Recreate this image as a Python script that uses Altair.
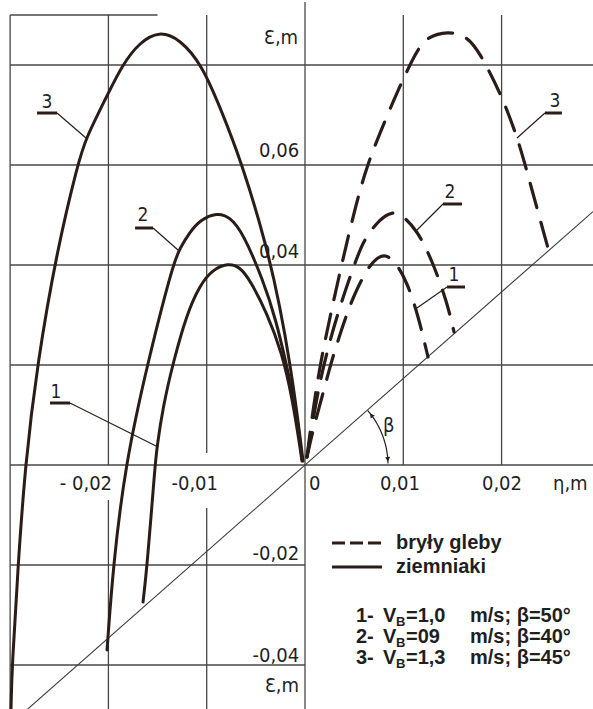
import altair as alt
import numpy as np
import pandas as pd

# ---------------------------------------------------------------- frame
W, H = 593, 709
ETA_DOMAIN = [-0.03103, 0.02930]   # η, m  (horizontal)
EPS_DOMAIN = [-0.0488, 0.0930]     # ε, m  (vertical)

INK = "#2a1d18"
GRID = "#474747"
TEXT = "#1f1f1f"
HAND = "DejaVu Sans Condensed, DejaVu Sans, sans-serif"
PRINT = "Liberation Sans, Arial, sans-serif"

# ---------------------------------------------------------------- trajectories
# potatoes (ziemniaki) – solid lines, η and ε in metres
pot1_eta = [-0.01648, -0.01607, -0.01526, -0.01506, -0.01445, -0.01343, -0.01200,
            -0.01068, -0.00946, -0.00783, -0.00661, -0.00560, -0.00387, -0.00234,
            -0.00132, -0.00051, -0.00031]
pot1_eps = [-0.0274, -0.0204, -0.0002, 0.0036, 0.0116, 0.0204, 0.0304,
            0.0360, 0.0390, 0.0404, 0.0396, 0.0370, 0.0304, 0.0224,
            0.0136, 0.0036, 0.0008]

pot2_eta = [-0.02014, -0.01953, -0.01831, -0.01607, -0.01343, -0.01272, -0.01170,
            -0.01068, -0.00895, -0.00763, -0.00631, -0.00427, -0.00295, -0.00193,
            -0.00081, -0.00031]
pot2_eps = [-0.0370, -0.0204, -0.0002, 0.0200, 0.0402, 0.0434, 0.0466,
            0.0490, 0.0505, 0.0496, 0.0464, 0.0370, 0.0290, 0.0204,
            0.0104, 0.0012]

pot3_eta = [-0.02991, -0.02981, -0.02920, -0.02848, -0.02726, -0.02523, -0.02309,
            -0.02228, -0.02040, -0.01862, -0.01679, -0.01485, -0.01272,
            -0.01048, -0.00865, -0.00641, -0.00387, -0.00254, -0.00153, -0.00071,
            -0.00020]
pot3_eps = [-0.0488, -0.0404, -0.0204, -0.0002, 0.0200, 0.0430, 0.0604,
            0.0654, 0.0728, 0.0800, 0.0846, 0.0868, 0.0852,
            0.0800, 0.0716, 0.0604, 0.0436, 0.0316, 0.0204, 0.0090,
            0.0008]

# soil clods (bryły gleby) – dashed lines
soil1_eta = [0.00020, 0.00081, 0.00173, 0.00254, 0.00305, 0.00427, 0.00509,
             0.00641, 0.00743, 0.00814, 0.00916, 0.01038, 0.01150, 0.01251]
soil1_eps = [0.0016, 0.0070, 0.0136, 0.0196, 0.0230, 0.0304, 0.0344,
             0.0396, 0.0416, 0.0421, 0.0408, 0.0366, 0.0300, 0.0216]

soil2_eta = [0.00020, 0.00071, 0.00122, 0.00173, 0.00254, 0.00376, 0.00529,
             0.00610, 0.00763, 0.00885, 0.00987, 0.01139, 0.01292, 0.01445, 0.01516]
soil2_eps = [0.0016, 0.0076, 0.0136, 0.0184, 0.0250, 0.0330, 0.0416,
             0.0454, 0.0492, 0.0507, 0.0500, 0.0470, 0.0410, 0.0326, 0.0266]

soil3_eta = [0.00020, 0.00081, 0.00153, 0.00254, 0.00376, 0.00529, 0.00641,
             0.00763, 0.00936, 0.01139, 0.01241, 0.01455, 0.01648, 0.01780,
             0.01984, 0.02167, 0.02309, 0.02472]
soil3_eps = [0.0016, 0.0110, 0.0200, 0.0296, 0.0404, 0.0530, 0.0604,
             0.0664, 0.0746, 0.0830, 0.0856, 0.0868, 0.0858, 0.0824,
             0.0746, 0.0654, 0.0550, 0.0434]

# slope of the separating surface (ε = k·η)
SLOPE_K = 1.73

# ---------------------------------------------------------------- grid
grid_v_eta = [-0.03, -0.02, -0.02, -0.01, -0.01, 0.0, 0.01, 0.02]
grid_v_from = [-0.0488, 0.0, -0.0488, 0.0024, -0.0488, -0.0488, 0.0, 0.0]
grid_v_to = [0.09, 0.09, -0.0070, 0.09, -0.0086, 0.0926, 0.09, 0.09]

grid_h_eps = [0.09, 0.08, 0.06, 0.04, 0.02, 0.0, -0.02, -0.04]
grid_h_from = [-0.03] * 8
grid_h_to = [-0.0150, 0.0293, 0.0293, 0.0293, 0.0293, 0.0293, 0.0, 0.0]

# tick labels
y_tick_text = ["0,06", "0,04", "-0,02", "-0,04"]
y_tick_eps = [0.0616, 0.0414, -0.0190, -0.0394]
x_tick_text = ["- 0,02", "-0,01", "0", "0,01", "0,02"]
x_tick_eta = [-0.01963, -0.00885, 0.0010, 0.00966, 0.02004]
x_tick_align = ["right", "right", "center", "center", "center"]

# curve numbers with their underline and leader
tag_text = ["3", "2", "1", "3", "2", "1"]
tag_eta = [-0.02625, -0.01648, -0.02533, 0.02543, 0.01475, 0.01516]
tag_eps = [0.0714, 0.0488, 0.0134, 0.0716, 0.0534, 0.0368]
bar_eta1 = [-0.02726, -0.01729, -0.02594, 0.02441, 0.01404, 0.01445]
bar_eta2 = [-0.02523, -0.01546, -0.02391, 0.02614, 0.01597, 0.01628]
bar_eps = [0.0704, 0.0474, 0.0124, 0.0704, 0.0522, 0.0356]
lead_eta = [-0.02228, -0.01292, -0.01495, 0.02157, 0.01139, 0.01139]
lead_eps = [0.0654, 0.0430, 0.0036, 0.0654, 0.0470, 0.0314]

# legend / parameter block
legend_names = ["bryły gleby", "ziemniaki"]
param_no = ["1-", "2-", "3-"]
param_vb = ["=1,0", "=09", "=1,3"]
param_rest = ["m/s; β=50°", "m/s; β=40°", "m/s; β=45°"]

# ---------------------------------------------------------------- helpers
xs = alt.Scale(domain=ETA_DOMAIN, nice=False, zero=False)
ys = alt.Scale(domain=EPS_DOMAIN, nice=False, zero=False)
PX = W / (ETA_DOMAIN[1] - ETA_DOMAIN[0])
PY = H / (EPS_DOMAIN[1] - EPS_DOMAIN[0])


def xe(f="eta"):
    return alt.X(f"{f}:Q", scale=xs, axis=None)


def ye(f="eps"):
    return alt.Y(f"{f}:Q", scale=ys, axis=None)


def curves(items):
    rows = []
    for name, e, s in items:
        for i, (a, b) in enumerate(zip(e, s)):
            rows.append(dict(curve=name, i=i, eta=a, eps=b))
    return pd.DataFrame(rows)


solid_df = curves([("z1", pot1_eta, pot1_eps), ("z2", pot2_eta, pot2_eps),
                   ("z3", pot3_eta, pot3_eps)])
dashed_df = curves([("g1", soil1_eta, soil1_eps), ("g2", soil2_eta, soil2_eps),
                    ("g3", soil3_eta, soil3_eps)])

layers = []

# grid
vgrid = pd.DataFrame(dict(x1=grid_v_eta, y1=grid_v_from, y2=grid_v_to))
hgrid = pd.DataFrame(dict(y1=grid_h_eps, x1=grid_h_from, x2=grid_h_to))
layers.append(alt.Chart(vgrid).mark_rule(color=GRID, strokeWidth=1.3).encode(
    x=xe("x1"), y=ye("y1"), y2="y2:Q"))
layers.append(alt.Chart(hgrid).mark_rule(color=GRID, strokeWidth=1.3).encode(
    y=ye("y1"), x=xe("x1"), x2="x2:Q"))

# separating surface line through the origin
surf = pd.DataFrame(dict(eta=[ETA_DOMAIN[0], ETA_DOMAIN[1]]))
surf["eps"] = surf["eta"] * SLOPE_K
layers.append(alt.Chart(surf).mark_line(color="#3a3a3a", strokeWidth=1.1, clip=True).encode(
    x=xe(), y=ye()))

# angle β marker
theta_top = np.degrees(np.arctan(SLOPE_K * PY / PX))
r_px = 83
th = np.radians(np.linspace(theta_top - 0.5, 1.0, 40))
arc = pd.DataFrame(dict(eta=r_px * np.cos(th) / PX, eps=r_px * np.sin(th) / PY,
                        i=np.arange(len(th))))
layers.append(alt.Chart(arc).mark_line(color=INK, strokeWidth=1.2).encode(
    x=xe(), y=ye(), order="i:Q"))
for deg, rot in [(theta_top - 4.5, 360 - (theta_top - 4.5)), (4.0, 176.0)]:
    t = np.radians(deg)
    head = pd.DataFrame(dict(eta=[r_px * np.cos(t) / PX], eps=[r_px * np.sin(t) / PY]))
    layers.append(alt.Chart(head).mark_point(shape="triangle-up", filled=True, size=26,
                                             color=INK, angle=float(rot), opacity=1).encode(
        x=xe(), y=ye()))
beta_df = pd.DataFrame(dict(eta=[(383 - 305) / PX], eps=[33 / PY], t=["β"]))
layers.append(alt.Chart(beta_df).mark_text(align="left", baseline="alphabetic", font=HAND,
                                           fontSize=20, color=TEXT).encode(
    x=xe(), y=ye(), text="t:N"))

# trajectories, smoothed through the read points
layers.append(alt.Chart(solid_df).mark_line(
    interpolate="basis", color=INK, strokeWidth=3, strokeCap="round",
    strokeJoin="round", clip=True).encode(x=xe(), y=ye(), detail="curve:N", order="i:Q"))
layers.append(alt.Chart(dashed_df).mark_line(
    interpolate="basis", color=INK, strokeWidth=3.2, strokeCap="round",
    strokeDash=[25, 15], clip=True).encode(x=xe(), y=ye(), detail="curve:N", order="i:Q"))

# curve numbers
tags = pd.DataFrame(dict(eta=tag_eta, eps=tag_eps, t=tag_text))
bars = pd.DataFrame(dict(x1=bar_eta1, x2=bar_eta2, y1=bar_eps))
# left-hand leaders start at the bar's right end, right-hand ones at its left end
leads = pd.DataFrame(dict(
    x1=[b2 if l < 0 else b1 for b1, b2, l in zip(bar_eta1, bar_eta2, lead_eta)],
    x2=lead_eta, y1=bar_eps, y2=lead_eps))
layers.append(alt.Chart(tags).mark_text(align="center", baseline="alphabetic", font=HAND,
                                        fontSize=19, color=TEXT).encode(
    x=xe(), y=ye(), text="t:N"))
layers.append(alt.Chart(bars).mark_rule(color=INK, strokeWidth=3).encode(
    x=xe("x1"), x2="x2:Q", y=ye("y1")))
layers.append(alt.Chart(leads).mark_rule(color=INK, strokeWidth=1.2).encode(
    x=xe("x1"), x2="x2:Q", y=ye("y1"), y2="y2:Q"))

# tick labels
ytl = pd.DataFrame(dict(eta=[-0.0006] * 4, eps=y_tick_eps, t=y_tick_text))
layers.append(alt.Chart(ytl).mark_text(align="right", baseline="alphabetic", font=HAND,
                                       fontSize=20, color=TEXT).encode(
    x=xe(), y=ye(), text="t:N"))
for al in ["right", "center"]:
    sub = pd.DataFrame(dict(eta=x_tick_eta, t=x_tick_text, a=x_tick_align))
    sub = sub[sub.a == al].assign(eps=-0.0050)
    layers.append(alt.Chart(sub).mark_text(align=al, baseline="alphabetic", font=HAND,
                                           fontSize=20, color=TEXT).encode(
        x=xe(), y=ye(), text="t:N"))
names = pd.DataFrame(dict(eta=[-0.0007, -0.0006, 0.02523], eps=[0.0842, -0.0454, -0.0050],
                          t=["Ɛ,m", "Ɛ,m", "η,m"], a=["right", "right", "left"]))
for al in ["right", "left"]:
    layers.append(alt.Chart(names[names.a == al]).mark_text(
        align=al, baseline="alphabetic", font=HAND, fontSize=20, color=TEXT).encode(
        x=xe(), y=ye(), text="t:N"))

# legend samples (pixel positions)
leg_lines = pd.DataFrame(dict(x1=[332, 332], x2=[382, 382], y=[543, 567], k=["d", "s"]))
layers.append(alt.Chart(leg_lines[leg_lines.k == "d"]).mark_rule(
    color=INK, strokeWidth=3.2, strokeDash=[13, 5]).encode(
    x=alt.X("x1:Q", scale=None), x2="x2:Q", y=alt.Y("y:Q", scale=None)))
layers.append(alt.Chart(leg_lines[leg_lines.k == "s"]).mark_rule(
    color=INK, strokeWidth=3.2).encode(
    x=alt.X("x1:Q", scale=None), x2="x2:Q", y=alt.Y("y:Q", scale=None)))
leg_text = pd.DataFrame(dict(x=[396, 396], y=[549, 573], t=legend_names))
layers.append(alt.Chart(leg_text).mark_text(
    align="left", baseline="alphabetic", font=PRINT, fontSize=20, fontWeight="bold",
    color=TEXT).encode(x=alt.X("x:Q", scale=None), y=alt.Y("y:Q", scale=None), text="t:N"))

# parameter lines
base_y = [622, 643, 664]
pieces = []
for n, vb, rest, by in zip(param_no, param_vb, param_rest, base_y):
    pieces += [dict(x=356, y=by, t=n, s=20), dict(x=383, y=by, t="V", s=20),
               dict(x=396, y=by + 4, t="B", s=13), dict(x=406, y=by, t=vb, s=20),
               dict(x=470, y=by, t=rest, s=20)]
pieces = pd.DataFrame(pieces)
for size in [20, 13]:
    layers.append(alt.Chart(pieces[pieces.s == size]).mark_text(
        align="left", baseline="alphabetic", font=PRINT, fontSize=size, fontWeight="bold",
        color=TEXT).encode(x=alt.X("x:Q", scale=None), y=alt.Y("y:Q", scale=None),
                           text="t:N"))

chart = alt.layer(*layers).properties(
    width=W, height=H, padding=0, background="white",
    autosize=alt.AutoSizeParams(type="none"),
).configure_view(stroke=None)

chart.save("out.html", embed_options={"renderer": "svg", "actions": False})
